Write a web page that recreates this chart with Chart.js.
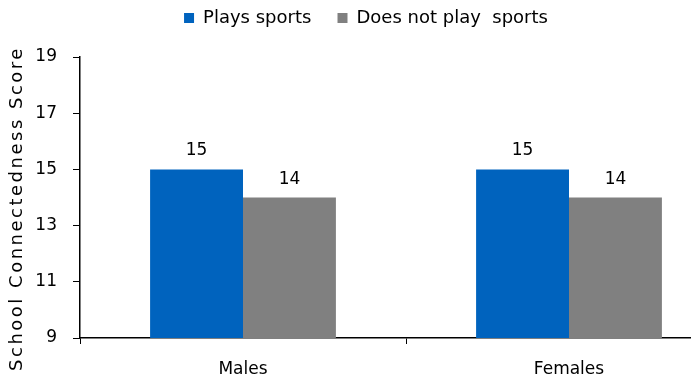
<!DOCTYPE html>
<html>
<head>
<meta charset="utf-8">
<script src="https://cdn.jsdelivr.net/npm/chart.js@4/dist/chart.umd.min.js"></script>
<style>
  html, body { margin: 0; padding: 0; overflow: hidden; background: #fff; }
  #wrap { width: 735px; height: 377px; }
</style>
</head>
<body>
<div id="wrap"><canvas id="c" width="735" height="377"></canvas></div>
<script>
const categories = ["Males", "Females"];
const playsSports = [15, 15];
const doesNotPlay = [14, 14];
const seriesNames = ["Plays sports", "Does not play  sports"];
const yTicks = [9, 11, 13, 15, 17, 19];
const yTitle = "School Connectedness Score";

const FONT = "'DejaVu Sans', sans-serif";

const labelPlugin = {
  id: 'valueLabels',
  afterDatasetsDraw(chart) {
    const ctx = chart.ctx;
    ctx.save();
    ctx.font = "17px " + FONT;
    ctx.fillStyle = "#000";
    ctx.textAlign = "center";
    ctx.textBaseline = "alphabetic";
    chart.data.datasets.forEach((ds, i) => {
      const meta = chart.getDatasetMeta(i);
      meta.data.forEach((el, j) => {
        ctx.fillText(String(ds.data[j]), el.x, el.y - 14);
      });
    });
    ctx.restore();
  }
};

const legendMargin = {
  id: 'legendMargin',
  beforeInit(chart) {
    const fit = chart.legend.fit;
    chart.legend.fit = function () {
      fit.bind(chart.legend)();
      this.height += 20;
    };
  },
  afterLayout(chart) {
    const ys = chart.scales.y;
    if (ys && !ys._spaced) {
      const orig = ys.drawTitle.bind(ys);
      ys.drawTitle = function () {
        const ctx = this.ctx;
        ctx.save();
        ctx.letterSpacing = '2.5px';
        ctx.translate(0, 11);
        orig();
        ctx.restore();
      };
      ys._spaced = true;
    }
  }
};

new Chart(document.getElementById('c'), {
  type: 'bar',
  data: {
    labels: categories,
    datasets: [
      { label: seriesNames[0], data: playsSports, backgroundColor: '#0063BE', borderWidth: 0 },
      { label: seriesNames[1], data: doesNotPlay, backgroundColor: '#808080', borderWidth: 0 }
    ]
  },
  options: {
    responsive: false,
    animation: false,
    devicePixelRatio: 1,
    layout: { padding: { top: 0, left: 0, right: 3, bottom: 0 } },
    datasets: { bar: { categoryPercentage: 0.57, barPercentage: 1 } },
    plugins: {
      tooltip: { enabled: false },
      legend: {
        position: 'top',
        labels: {
          boxWidth: 10, boxHeight: 10, padding: 9,
          color: '#000',
          font: { family: FONT, size: 18 },
          generateLabels(chart) {
            const items = Chart.defaults.plugins.legend.labels.generateLabels(chart);
            items[0].text = items[0].text + '   ';
            return items;
          }
        }
      }
    },
    scales: {
      x: {
        grid: { display: true, drawOnChartArea: false, drawTicks: true, tickLength: 6, color: '#000', offset: true },
        border: { display: true, color: '#000', width: 1.5 },
        ticks: { color: '#000', font: { family: FONT, size: 17 }, padding: 15 },
        afterFit(s) { s.height = 39; }
      },
      y: {
        min: 9, max: 19,
        afterBuildTicks(s) { s.ticks = yTicks.map(v => ({ value: v })); },
        grid: { display: true, drawOnChartArea: false, drawTicks: true, tickLength: 7, color: '#000' },
        border: { display: true, color: '#000', width: 1.5 },
        ticks: { color: '#000', font: { family: FONT, size: 17 }, padding: 16 },
        title: { display: true, text: yTitle, color: '#000', font: { family: FONT, size: 18 }, padding: { top: 7, bottom: 0 } },
        afterFit(s) { s.width = 80; }
      }
    }
  },
  plugins: [labelPlugin, legendMargin]
});
</script>
</body>
</html>
